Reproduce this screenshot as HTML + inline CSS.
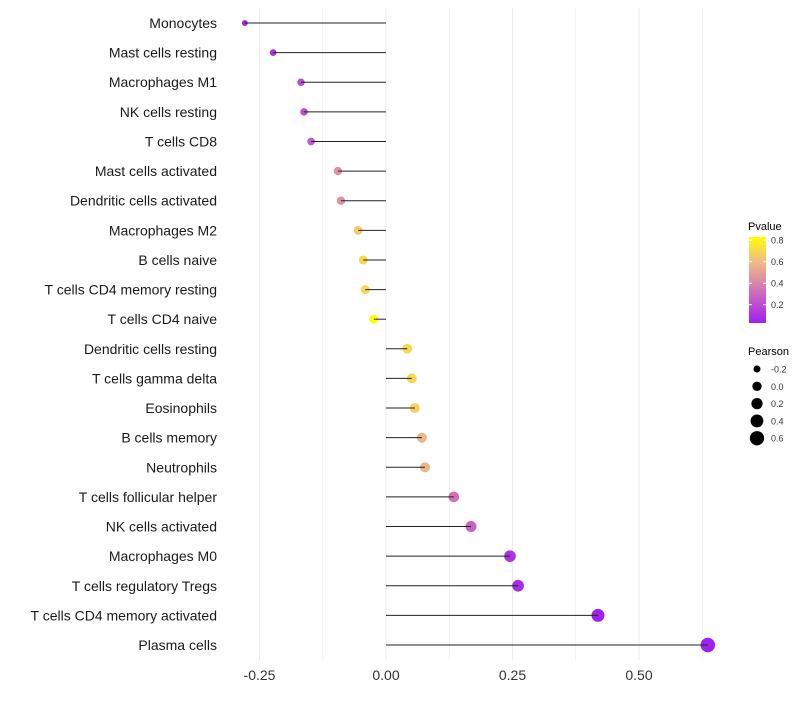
<!DOCTYPE html>
<html><head><meta charset="utf-8"><style>
body{margin:0;background:#fff;font-family:"Liberation Sans",sans-serif}
</style></head><body>
<svg width="800" height="700" id="c" font-family="Liberation Sans, sans-serif"></svg>
<script>
const categories=["Monocytes","Mast cells resting","Macrophages M1","NK cells resting","T cells CD8","Mast cells activated","Dendritic cells activated","Macrophages M2","B cells naive","T cells CD4 memory resting","T cells CD4 naive","Dendritic cells resting","T cells gamma delta","Eosinophils","B cells memory","Neutrophils","T cells follicular helper","NK cells activated","Macrophages M0","T cells regulatory  Tregs","T cells CD4 memory activated","Plasma cells"];
const pearson=[-0.279,-0.223,-0.168,-0.162,-0.148,-0.095,-0.089,-0.055,-0.045,-0.041,-0.024,0.042,0.051,0.057,0.071,0.077,0.134,0.168,0.245,0.261,0.419,0.636];
const pvalue=[0.05,0.10,0.20,0.20,0.25,0.45,0.45,0.65,0.70,0.70,0.83,0.70,0.70,0.68,0.58,0.58,0.33,0.28,0.10,0.08,0.03,0.02];
const xTicks=[-0.25,0,0.25,0.5];
const xTickLabels=["-0.25","0.00","0.25","0.50"];
const pTicks=[0.2,0.4,0.6,0.8];
const sizeTicks=[-0.2,0,0.2,0.4,0.6];

const svg=document.getElementById('c');const NS="http://www.w3.org/2000/svg";
function mk(t,a,p){const e=document.createElementNS(NS,t);for(const k in a)e.setAttribute(k,a[k]);(p||svg).appendChild(e);return e;}
const x=v=>386+v*506;
const y=i=>23+i*(622/21);
const r=v=>Math.sqrt(Math.max(4,22+48*v));
function hex(c){return c.map(v=>Math.round(v).toString(16).padStart(2,'0')).join('');}
const stops=[[0.03,[160,32,240]],[0.25,[197,90,200]],[0.45,[224,148,160]],[0.62,[242,192,130]],[0.83,[255,255,0]]];
function col(p){p=Math.max(0.03,Math.min(0.83,p));let k=0;while(k<stops.length-2&&p>stops[k+1][0])k++;
 const a=stops[k],b=stops[k+1];const t=(p-a[0])/(b[0]-a[0]);return '#'+hex(a[1].map((v,j)=>v+(b[1][j]-v)*t));}
const grid=mk('g',{});
for(let v=-0.25;v<=0.63;v+=0.125){mk('line',{x1:x(v),x2:x(v),y1:8,y2:660,stroke:'#ebebeb','stroke-width':Math.abs(v/0.25-Math.round(v/0.25))<1e-6?1:0.6},grid);}
xTicks.forEach((v,i)=>{const t=mk('text',{x:x(v),y:680,'text-anchor':'middle','font-size':14,fill:'#333'});t.textContent=xTickLabels[i];
});
categories.forEach((c,i)=>{
 const t=mk('text',{x:217,y:y(i)+5,'text-anchor':'end','font-size':14,fill:'#1a1a1a'});t.textContent=c;
 
 const d=mk('circle',{cx:x(pearson[i]),cy:y(i),r:r(pearson[i]),fill:col(pvalue[i])});
 
 const l=mk('line',{x1:x(0),x2:x(pearson[i]),y1:y(i),y2:y(i),stroke:'#222','stroke-width':1});
 
});
const lg=mk('g',{});
let tt=mk('text',{x:748,y:230,'font-size':11,fill:'#000'},lg);tt.textContent='Pvalue';
const defs=mk('defs',{});const gr=mk('linearGradient',{id:'pg',x1:0,y1:1,x2:0,y2:0},defs);
stops.forEach(s=>mk('stop',{offset:(s[0]-0.03)/0.8,'stop-color':'#'+hex(s[1])},gr));
mk('rect',{x:749,y:237,width:17,height:86,fill:'url(#pg)'},lg);
const py=p=>323-(p-0.03)*(86/0.8);
pTicks.forEach(p=>{mk('line',{x1:749,x2:752,y1:py(p),y2:py(p),stroke:'#fff'},lg);mk('line',{x1:763,x2:766,y1:py(p),y2:py(p),stroke:'#fff'},lg);
 const t=mk('text',{x:771,y:py(p)+3.5,'font-size':9,fill:'#333'},lg);t.textContent=p.toFixed(1);});
const sg=mk('g',{});
tt=mk('text',{x:748,y:355,'font-size':11,fill:'#000'},sg);tt.textContent='Pearson';
sizeTicks.forEach((v,i)=>{const cy=369+i*17.3;mk('circle',{cx:757,cy:cy,r:r(v)},sg);
 const t=mk('text',{x:771,y:cy+3.5,'font-size':9,fill:'#333'},sg);t.textContent=v.toFixed(1);});
</script>
</body></html>
